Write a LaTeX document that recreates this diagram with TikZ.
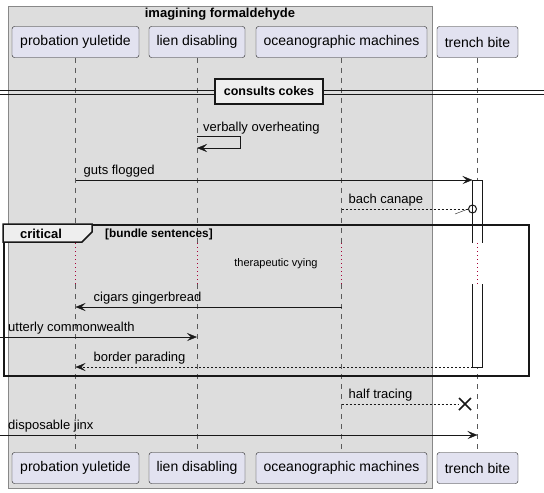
\documentclass[tikz,border=0pt]{standalone}
\usepackage{fontspec}
\setmainfont{Liberation Sans}
\usepackage{xcolor}
\definecolor{umldark}{RGB}{24,24,24}
\definecolor{umlpart}{RGB}{226,226,240}
\definecolor{umlgroup}{RGB}{221,221,221}
\definecolor{umlgroupline}{RGB}{136,136,136}
\definecolor{umlnote}{RGB}{238,238,238}
\definecolor{umllife}{RGB}{90,90,90}
\definecolor{umldelay}{RGB}{168,0,54}
\usetikzlibrary{arrows.meta, positioning, calc}

\begin{document}
\begin{tikzpicture}[
  x=1pt, y=-1pt,
  part/.style={draw=umldark, fill=umlpart, rounded corners=2.5pt, minimum height=31pt, inner sep=0pt, font=\fontsize{14}{16}\selectfont},
  lifeline/.style={draw=umllife, dash pattern=on 5pt off 5pt},
  delayline/.style={draw=umldelay, dash pattern=on 1pt off 3pt},
  msg/.style={draw=umldark, -{Stealth[length=10pt, width=8pt, inset=4pt]}},
  reply/.style={msg, dash pattern=on 2pt off 2pt},
  msglabel/.style={font=\fontsize{13}{15}\selectfont, inner sep=0pt, anchor=base west},
  boldlabel/.style={font=\bfseries\fontsize{13}{15}\selectfont, inner sep=0pt}
]
  \useasboundingbox (0,0) rectangle (544,493);

  % box around the first three participants
  \draw[fill=umlgroup, draw=umlgroupline] (8,6) rectangle (432,488);
  \node[boldlabel] (groupTitle) at (220,14) {imagining formaldehyde};

  % participants, top and bottom
  \node[part, minimum width=127pt] (pyT) at (75.5,42) {probation yuletide};
  \node[part, minimum width=96pt] (ldT) at (197,42) {lien disabling};
  \node[part, minimum width=171pt] (omT) at (341.5,42) {oceanographic machines};
  \node[part, minimum width=81pt] (tbT) at (477.5,42) {trench bite};
  \node[part, minimum width=127pt] (pyB) at (75.5,468) {probation yuletide};
  \node[part, minimum width=96pt] (ldB) at (197,468) {lien disabling};
  \node[part, minimum width=171pt] (omB) at (341.5,468) {oceanographic machines};
  \node[part, minimum width=81pt] (tbB) at (477.5,468) {trench bite};

  % message rows
  \coordinate (s1) at (0,136);
  \coordinate (s2) at (0,148);
  \coordinate (m1) at (0,180);
  \coordinate (m2) at (0,209);
  \coordinate (d1) at (0,243);
  \coordinate (d2) at (0,284);
  \coordinate (m3) at (0,307);
  \coordinate (m4) at (0,337);
  \coordinate (m5) at (0,367);
  \coordinate (m6) at (0,404);
  \coordinate (m7) at (0,435);
  \coordinate (edgeA) at (0,337);
  \coordinate (edgeB) at (0,435);

  % lifelines
  \foreach \p in {py,ld,om,tb} {
    \draw[lifeline] (\p T.south) -- (\p T |- d1);
    \draw[delayline] (\p T |- d1) -- (\p T |- d2);
    \draw[lifeline] (\p T |- d2) -- (\p B.north);
  }

  % divider
  \draw[umldark] (0,90) -- (544,90);
  \draw[umldark] (0,94) -- (544,94);
  \node[boldlabel, font=\bfseries\fontsize{12.5}{15}\selectfont, draw=umldark, line width=1.5pt, fill=umlnote, minimum width=108pt, minimum height=25pt] (divider) at (269,91.5) {consults cokes};

  % activation bar of trench bite
  \draw[fill=white, draw=umldark] ($(tbT |- d1)+(-5,0)$) |- ($(tbT |- m1)+(5,0)$) -- ($(tbT |- d1)+(5,0)$);
  \draw[fill=white, draw=umldark] ($(tbT |- d2)+(-5,0)$) |- ($(tbT |- m5)+(5,0)$) -- ($(tbT |- d2)+(5,0)$);

  % messages
  \draw[msg] (ldT |- s1) -- ++(43,0) |- (ldT |- s2);
  \node[msglabel] (lblSelf) at ($(ldT |- s1)+(6,-5)$) {verbally overheating};

  \draw[msg] (pyT |- m1) -- ($(tbT |- m1)+(-5,0)$);
  \node[msglabel] (lblGuts) at ($(pyT |- m1)+(8,-6)$) {guts flogged};

  \node[circle, draw=umldark, line width=1pt, minimum size=8pt, inner sep=0pt] (bachEnd) at ($(tbT |- m2)+(-5,0)$) {};
  \draw[reply, -] (omT |- m2) -- (bachEnd.west);
  \draw[umldark] (bachEnd.west) -- ++(-13,5);
  \node[msglabel] (lblBach) at ($(omT |- m2)+(7,-6)$) {bach canape};

  \draw[msg] (omT |- m3) -- (pyT |- m3);
  \node[msglabel] (lblCigars) at ($(pyT |- m3)+(18,-6)$) {cigars gingerbread};

  \draw[msg] (edgeA) -- (ldT |- m4);
  \node[msglabel] (lblUtterly) at ($(edgeA)+(8,-6)$) {utterly commonwealth};

  \draw[reply] ($(tbT |- m5)+(-5,0)$) -- (pyT |- m5);
  \node[msglabel] (lblBorder) at ($(pyT |- m5)+(18,-6)$) {border parading};

  \coordinate (halfEnd) at ($(tbT |- m6)+(-12.5,0)$);
  \draw[reply, -] (omT |- m6) -- ($(halfEnd)+(-6,0)$);
  \draw[umldark, line width=1.5pt] ($(halfEnd)+(-6,-6)$) -- ($(halfEnd)+(6,6)$);
  \draw[umldark, line width=1.5pt] ($(halfEnd)+(-6,6)$) -- ($(halfEnd)+(6,-6)$);
  \node[msglabel] (lblHalf) at ($(omT |- m6)+(7,-6)$) {half tracing};

  \draw[msg] (edgeB) -- (tbT |- m7);
  \node[msglabel] (lblJinx) at ($(edgeB)+(8,-6)$) {disposable jinx};

  % critical fragment
  \node[draw=umldark, line width=1.5pt, minimum width=525pt, minimum height=151pt, inner sep=0pt, anchor=north west] (critFrame) at (3,224) {};
  \draw[fill=umlnote, draw=umldark, line width=1.5pt] (critFrame.north west) -- ++(89,0) -- ++(0,8) -- ++(-10,10) -- ++(-79,0) -- cycle;
  \node[boldlabel] (critLabel) at (41,233.5) {critical};
  \node[boldlabel, font=\bfseries\fontsize{11.8}{13}\selectfont, anchor=west] (critGuard) at (105,234) {[bundle sentences]};
  \node[font=\fontsize{11}{13}\selectfont, inner sep=0pt] (delayText) at (276,264) {therapeutic vying};
\end{tikzpicture}
\end{document}
